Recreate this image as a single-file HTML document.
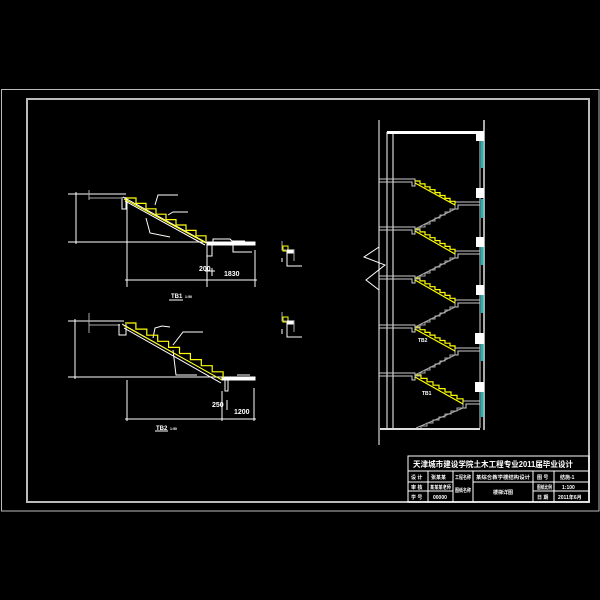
<!DOCTYPE html>
<html><head><meta charset="utf-8"><style>
html,body{margin:0;padding:0;background:#000;}
svg{display:block}
text{font-family:"Liberation Sans","Noto Sans CJK SC",sans-serif;fill:#fff;font-weight:bold}
</style></head><body>
<svg width="600" height="600" viewBox="0 0 600 600" xmlns="http://www.w3.org/2000/svg">
<rect width="600" height="600" fill="#000"/>
<rect x="1.5" y="89.5" width="597.5" height="421.5" fill="none" stroke="#bbb" stroke-width="1"/>
<rect x="27" y="99" width="562" height="403" fill="none" stroke="#bbb" stroke-width="2"/>

<g stroke="#fff" stroke-width="1" fill="none">
<line x1="68" y1="194" x2="126" y2="194"/>
<line x1="89" y1="190" x2="89" y2="200" stroke="#aaa"/>
<line x1="89" y1="198" x2="121" y2="198" stroke="#aaa"/>
<line x1="68" y1="242" x2="207" y2="242"/>
<line x1="76" y1="192" x2="76" y2="244"/>
<polyline points="122,197 122,209 126,209 126,197"/>
<line x1="123" y1="197" x2="207" y2="243"/>
<line x1="125" y1="201" x2="205" y2="245"/>
<polyline points="146,218 150,233 170,237" />
<polyline points="155,205 158,195 178,195" />
<polyline points="168,215 173,212 188,212" />
<rect x="207" y="242" width="48" height="3" fill="#fff"/>
<polyline points="213,242 213,239 230,239 232,241 245,241"/>
<polyline points="207,245 207,256 212,256 212,245"/>
<polyline points="233,245 233,252 252,252"/>
<line x1="127" y1="199" x2="127" y2="287"/>
<line x1="207" y1="256" x2="207" y2="287"/>
<line x1="255" y1="250" x2="255" y2="287"/>
<line x1="125" y1="280" x2="257" y2="280"/>
<line x1="212" y1="268" x2="212" y2="276"/>
<line x1="205" y1="271" x2="215" y2="271"/>
</g>
<path d="M126 198 h10 v5.4 h10 v5.4 h10 v5.4 h10 v5.4 h10 v5.4 h10 v5.4 h10 v5.4 h10 v5.4" stroke="#ff0" stroke-width="1.2" fill="none"/>
<line x1="124" y1="199" x2="206" y2="243" stroke="#ff0" stroke-width="1"/>
<text x="199" y="271" font-size="7">200</text>
<text x="224" y="276" font-size="7">1830</text>
<text x="171" y="298" font-size="6">TB1</text>
<text x="185" y="298" font-size="3.5">1:50</text>
<line x1="169" y1="300" x2="183" y2="300" stroke="#fff"/>

<g stroke="#fff" stroke-width="1" fill="none">
<line x1="68" y1="321" x2="124" y2="321"/>
<line x1="89" y1="313" x2="89" y2="333" stroke="#aaa"/>
<line x1="89" y1="325" x2="120" y2="325" stroke="#aaa"/>
<line x1="68" y1="377" x2="222" y2="377"/>
<line x1="75" y1="319" x2="75" y2="379"/>
<polyline points="119,324 119,335 126,335 126,324"/>
<line x1="122" y1="324" x2="222" y2="380"/>
<line x1="124" y1="328" x2="221" y2="383"/>
<polyline points="153,338 155,328 162,326 170,327" />
<polyline points="173,345 183,332 203,332" />
<polyline points="173,350 176,375 197,375" />
<rect x="222" y="377" width="33" height="3" fill="#fff"/>
<polyline points="225,380 225,391 228,391 228,380"/>
<line x1="237" y1="375" x2="250" y2="375"/>
<line x1="127" y1="380" x2="127" y2="421"/>
<line x1="222" y1="391" x2="222" y2="421"/>
<line x1="254" y1="388" x2="254" y2="421"/>
<line x1="125" y1="419" x2="256" y2="419"/>
<line x1="227" y1="400" x2="227" y2="410"/>
</g>
<path d="M125 323 h10.9 v6.1 h10.9 v6.1 h10.9 v6.1 h10.9 v6.1 h10.9 v6.1 h10.9 v6.1 h10.9 v6.1 h10.9 v6.1 h10.9 v6.1" stroke="#ff0" stroke-width="1.2" fill="none"/>
<line x1="123" y1="325" x2="222" y2="380" stroke="#ff0" stroke-width="1"/>
<text x="212" y="407" font-size="7">250</text>
<text x="234" y="414" font-size="7">1200</text>
<text x="156" y="430" font-size="6">TB2</text>
<text x="170" y="430" font-size="3.5">1:50</text>
<line x1="155" y1="431" x2="168" y2="431" stroke="#fff"/>

<g stroke="#fff" stroke-width="1" fill="none">
<polyline points="282,241 282,250 286,250" stroke="#aaa"/>
<rect x="283" y="246" width="5" height="5" stroke="#ff0"/>
<rect x="287" y="250" width="7" height="3" fill="#fff"/>
<polyline points="287,253 287,266 292,266 302,266"/>
<polyline points="282,258 282,262"/>
<polyline points="294,250 294,261" stroke="#aaa"/>
<polyline points="282,312 282,321 286,321" stroke="#aaa"/>
<rect x="283" y="317" width="5" height="5" stroke="#ff0"/>
<rect x="287" y="321" width="7" height="3" fill="#fff"/>
<polyline points="287,324 287,337 292,337 302,337"/>
<polyline points="282,329 282,334"/>
<polyline points="294,321 294,332" stroke="#aaa"/>
</g>

<g stroke="#ddd" stroke-width="1" fill="none">
<line x1="379" y1="120" x2="379" y2="445" stroke="#fff"/>
<polyline points="379,247 364,257 385,265 366,280 379,290" stroke="#fff"/>
<line x1="387" y1="132" x2="387" y2="428" stroke="#fff"/>
<line x1="393" y1="134" x2="393" y2="428" stroke="#fff"/>
<line x1="480" y1="132" x2="480" y2="428"/>
<line x1="484" y1="120" x2="484" y2="430" stroke="#aaa" stroke-width="2"/>
<line x1="380" y1="429" x2="480" y2="429" stroke-width="2"/>
</g>
<rect x="387" y="131" width="97" height="3" fill="#fff"/>
<g stroke="#ccc" stroke-width="1" fill="none">
<polyline points="379,179 415,179 415,186 412,186 412,182 379,182"/>
<polyline points="379,227 415,227 415,234 412,234 412,230 379,230"/>
<polyline points="379,276 415,276 415,283 412,283 412,279 379,279"/>
<polyline points="379,325 415,325 415,332 412,332 412,328 379,328"/>
<polyline points="379,373 415,373 415,380 412,380 412,376 379,376"/>
<polyline points="480,202 455,202 455,209 458,209 458,205 480,205"/>
<polyline points="480,251 455,251 455,258 458,258 458,254 480,254"/>
<polyline points="480,300 455,300 455,307 458,307 458,303 480,303"/>
<polyline points="480,348 455,348 455,355 458,355 458,351 480,351"/>
<polyline points="480,401 463,401 463,408 466,408 466,404 480,404"/>
</g>
<g stroke="#ff0" stroke-width="1.2" fill="none">
<path d="M415 181 h5 v2.9 h5 v2.9 h5 v2.9 h5 v2.9 h5 v2.9 h5 v2.9 h5 v2.9 h5 v2.9"/>
<line x1="415" y1="183" x2="455" y2="205"/>
<path d="M415 229 h5 v2.9 h5 v2.9 h5 v2.9 h5 v2.9 h5 v2.9 h5 v2.9 h5 v2.9 h5 v2.9"/>
<line x1="415" y1="231" x2="455" y2="254"/>
<path d="M415 278 h5 v2.9 h5 v2.9 h5 v2.9 h5 v2.9 h5 v2.9 h5 v2.9 h5 v2.9 h5 v2.9"/>
<line x1="415" y1="280" x2="455" y2="303"/>
<path d="M415 327 h5 v2.7 h5 v2.7 h5 v2.7 h5 v2.7 h5 v2.7 h5 v2.7 h5 v2.7 h5 v2.7"/>
<line x1="415" y1="329" x2="455" y2="351"/>
<path d="M415 375 h6 v3.4 h6 v3.4 h6 v3.4 h6 v3.4 h6 v3.4 h6 v3.4 h6 v3.4 h6 v3.4"/>
<line x1="415" y1="377" x2="463" y2="404"/>
</g>
<g stroke="#aaa" stroke-width="1" fill="none">
<path d="M455 206 v3 h-5 v3 h-5 v3 h-5 v3 h-5 v3 h-5 v3 h-5 v3 h-5 v3 h-5"/>
<line x1="455" y1="209" x2="415" y2="229"/>
<path d="M455 255 v3 h-5 v3 h-5 v3 h-5 v3 h-5 v3 h-5 v3 h-5 v3 h-5 v3 h-5"/>
<line x1="455" y1="258" x2="415" y2="278"/>
<path d="M455 304 v3 h-5 v3 h-5 v3 h-5 v3 h-5 v3 h-5 v3 h-5 v3 h-5 v3 h-5"/>
<line x1="455" y1="307" x2="415" y2="327"/>
<path d="M455 352 v3 h-5 v3 h-5 v3 h-5 v3 h-5 v3 h-5 v3 h-5 v3 h-5 v3 h-5"/>
<line x1="455" y1="355" x2="415" y2="375"/>
<path d="M463 405 v3 h-6 v3 h-6 v3 h-6 v3 h-6 v3 h-6 v3 h-6 v3 h-6 v2"/>
<line x1="463" y1="408" x2="416" y2="428"/>
</g>
<g>
<rect x="476" y="131" width="8" height="10" fill="#fff"/>
<rect x="476" y="188" width="8" height="10" fill="#fff"/>
<rect x="476" y="237" width="8" height="10" fill="#fff"/>
<rect x="476" y="285" width="8" height="10" fill="#fff"/>
<rect x="475" y="333" width="9" height="11" fill="#fff"/>
<rect x="475" y="382" width="9" height="10" fill="#fff"/>
</g>
<g stroke="#0ff" stroke-width="1.5">
<line x1="482" y1="141" x2="482" y2="168"/>
<line x1="482" y1="199" x2="482" y2="218"/>
<line x1="482" y1="247" x2="482" y2="265"/>
<line x1="482" y1="295" x2="482" y2="313"/>
<line x1="482" y1="344" x2="482" y2="361"/>
<line x1="482" y1="392" x2="482" y2="417"/>
</g>
<text x="418" y="342" font-size="5">TB2</text>
<text x="422" y="395" font-size="5">TB1</text>

<g stroke="#fff" stroke-width="1" fill="none">
<rect x="408" y="456" width="181" height="46"/>
<line x1="408" y1="471" x2="589" y2="471"/>
<line x1="408" y1="482" x2="453" y2="482"/>
<line x1="533" y1="482" x2="589" y2="482"/>
<line x1="408" y1="491" x2="453" y2="491"/>
<line x1="533" y1="491" x2="589" y2="491"/>
<line x1="428" y1="471" x2="428" y2="502"/>
<line x1="453" y1="471" x2="453" y2="502"/>
<line x1="473" y1="471" x2="473" y2="502"/>
<line x1="473" y1="482" x2="533" y2="482"/>
<line x1="533" y1="471" x2="533" y2="502"/>
<line x1="554" y1="471" x2="554" y2="502"/>
</g>
<text x="413" y="467" font-size="8" textLength="160" lengthAdjust="spacingAndGlyphs">天津城市建设学院土木工程专业2011届毕业设计</text>
<g font-size="5">
<text x="411" y="479">设 计</text><text x="431" y="479">张某某</text>
<text x="455" y="479" textLength="16" lengthAdjust="spacingAndGlyphs">工程名称</text><text x="476" y="479" textLength="54" lengthAdjust="spacingAndGlyphs">某综合教学楼结构设计</text>
<text x="537" y="479">图 号</text><text x="560" y="479">结施-1</text>
<text x="411" y="489">审 核</text><text x="430" y="489" textLength="21" lengthAdjust="spacingAndGlyphs">某某某老师</text>
<text x="537" y="489" textLength="15" lengthAdjust="spacingAndGlyphs">图纸比例</text><text x="562" y="489">1:100</text>
<text x="411" y="499">学 号</text><text x="433" y="499">00000</text>
<text x="455" y="492" textLength="16" lengthAdjust="spacingAndGlyphs">图纸名称</text><text x="493" y="494">楼梯详图</text>
<text x="537" y="499">日 期</text><text x="558" y="499">2011年6月</text>
</g>
</svg>
</body></html>
